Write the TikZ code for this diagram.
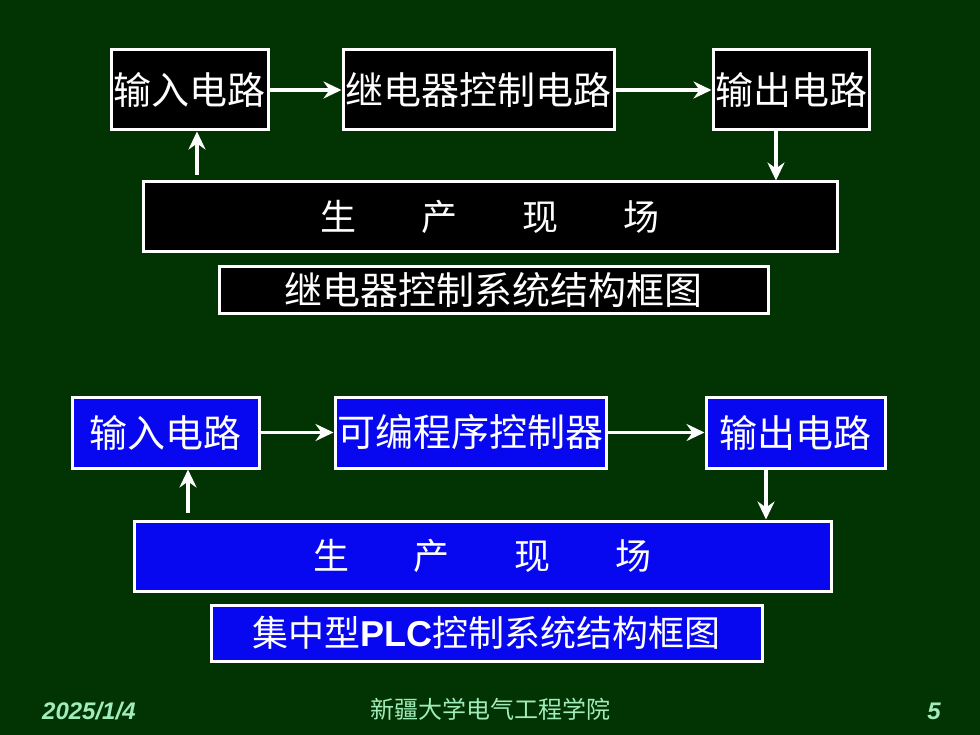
\documentclass[tikz,border=0pt]{standalone}
\usepackage{fontspec}
\setmainfont{Liberation Sans}
\newfontfamily\cjk{Noto Sans CJK SC}
\usetikzlibrary{arrows.meta}
\definecolor{bg}{RGB}{2,51,2}
\definecolor{boxblue}{RGB}{8,8,240}
\definecolor{foot}{RGB}{160,236,186}
\tikzset{
  blk/.style={draw=white, line width=3pt, fill=black, text=white, inner sep=0pt, font=\cjk\fontsize{38}{40}\selectfont},
  blu/.style={draw=white, line width=3pt, fill=boxblue, text=white, inner sep=0pt, font=\cjk\fontsize{38}{40}\selectfont},
  arr/.style={draw=white, line width=3.5pt, -{Stealth[length=18pt,width=17pt,inset=6pt]}},
  foottext/.style={text=foot, inner sep=0pt}
}
\begin{document}
\begin{tikzpicture}[x=1pt,y=-1pt]
\fill[bg] (0,0) rectangle (980,735);
\useasboundingbox (0,0) rectangle (980,735);
% ---- relay control system ----
\node[blk, minimum width=157pt, minimum height=80pt] (a1) at (189.5,90) {输入电路};
\node[blk, minimum width=271pt, minimum height=80pt] (a2) at (478.5,90) {继电器控制电路};
\node[blk, minimum width=156pt, minimum height=80pt] (a3) at (791,90) {输出电路};
\node[blk, minimum width=694pt, minimum height=70pt, font=\cjk\fontsize{36}{38}\selectfont] (af) at (490,217) {生\hspace{65pt}产\hspace{65pt}现\hspace{65pt}场};
\node[blk, minimum width=549pt, minimum height=47pt] (acap) at (493.5,290.5) {继电器控制系统结构框图};
\draw[arr] (a1.east) -- (a2.west);
\draw[arr] (a2.east) -- (a3.west);
\coordinate (u1) at (197,175);
\draw[arr] (u1) -- (u1 |- a1.south);
\coordinate (d1) at (776,0);
\draw[arr] (d1 |- a3.south) -- (d1 |- af.north);
% ---- PLC system ----
\node[blu, minimum width=187pt, minimum height=71pt] (b1) at (165.5,432.5) {输入电路};
\node[blu, minimum width=271pt, minimum height=71pt] (b2) at (470.5,432.5) {可编程序控制器};
\node[blu, minimum width=179pt, minimum height=71pt] (b3) at (795.5,432.5) {输出电路};
\node[blu, minimum width=697pt, minimum height=70pt, font=\cjk\fontsize{36}{38}\selectfont] (bf) at (482.5,556) {生\hspace{65pt}产\hspace{65pt}现\hspace{65pt}场};
\node[blu, minimum width=551pt, minimum height=56pt, font=\cjk\fontsize{36}{38}\selectfont] (bcap) at (486.5,633) {集中型{\normalfont\bfseries PLC}控制系统结构框图};
\draw[arr] (b1.east) -- (b2.west);
\draw[arr] (b2.east) -- (b3.west);
\coordinate (u2) at (188,513);
\draw[arr] (u2) -- (u2 |- b1.south);
\coordinate (d2) at (766,0);
\draw[arr] (d2 |- b3.south) -- (d2 |- bf.north);
% ---- footer ----
\node[foottext, anchor=base west, font=\bfseries\itshape\fontsize{24}{26}\selectfont] (date) at (42,719) {2025/1/4};
\node[foottext, anchor=base, font=\cjk\fontsize{24}{26}\selectfont] (school) at (490,718) {新疆大学电气工程学院};
\node[foottext, anchor=base east, font=\bfseries\itshape\fontsize{24}{26}\selectfont] (page) at (941,719) {5};
\end{tikzpicture}
\end{document}
